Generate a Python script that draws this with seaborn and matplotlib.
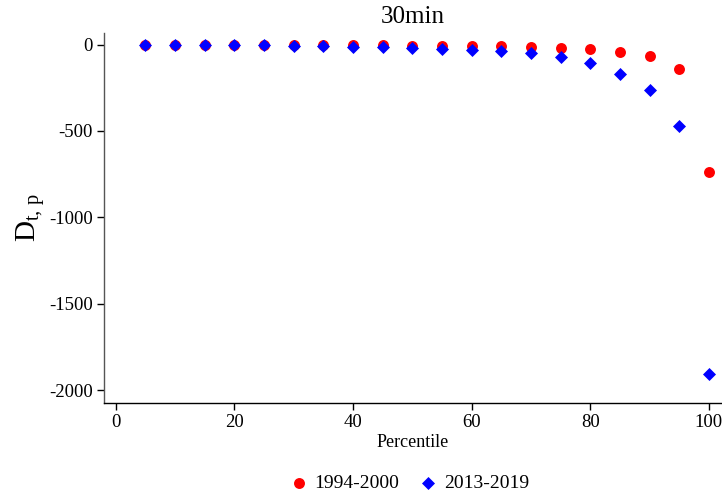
import numpy as np
import pandas as pd
import matplotlib
matplotlib.use("Agg")
import matplotlib.pyplot as plt
import seaborn as sns

percentiles = [5, 10, 15, 20, 25, 30, 35, 40, 45, 50, 55, 60, 65, 70, 75, 80, 85, 90, 95, 100]
d_1994_2000 = [-0.5, -1, -1.5, -2, -2.5, -3, -4, -4.5, -5, -6, -7, -8, -10, -13, -18, -27, -43, -68, -139, -738]
d_2013_2019 = [0, -1, -2, -3, -4, -8, -10, -13, -17, -21, -27, -31, -40, -52, -73, -108, -168, -266, -474, -1906]
series_labels = ["1994-2000", "2013-2019"]
x_ticks = [0, 20, 40, 60, 80, 100]
y_ticks = [0, -500, -1000, -1500, -2000]

sns.set_theme(style="white")
plt.rcParams["font.family"] = ["Liberation Serif", "DejaVu Serif"]
plt.rcParams["mathtext.fontset"] = "custom"
plt.rcParams["mathtext.rm"] = "Liberation Serif"
plt.rcParams["mathtext.it"] = "Liberation Serif:italic"
for k in ["text.color", "axes.labelcolor", "xtick.color", "ytick.color"]:
    plt.rcParams[k] = "black"

df1 = pd.DataFrame({"Percentile": percentiles, "D": d_1994_2000})
df2 = pd.DataFrame({"Percentile": percentiles, "D": d_2013_2019})

fig = plt.figure(figsize=(7.22, 4.97), dpi=100)
ax = fig.add_axes([103.7 / 722, 1 - 403 / 497, (722 - 103.7) / 722, (403 - 33) / 497])

sns.scatterplot(data=df1, x="Percentile", y="D", ax=ax, color="#ff0000", marker="o",
                s=62, linewidth=0, label=series_labels[0], zorder=3)
sns.scatterplot(data=df2, x="Percentile", y="D", ax=ax, color="#0000ff", marker="D",
                s=44, linewidth=0, label=series_labels[1], zorder=4)

ax.set_xlim(-2.02, 102.2)
ax.set_ylim(-2075, 66.6)
ax.set_xticks(x_ticks)
ax.set_yticks(y_ticks)
ax.set_yticklabels([str(v) for v in y_ticks])

for s in ["top", "right"]:
    ax.spines[s].set_visible(False)
ax.spines["left"].set_color("#555555")
ax.spines["bottom"].set_color("black")
ax.spines["left"].set_linewidth(1.0)
ax.spines["bottom"].set_linewidth(1.0)
ax.tick_params(axis="both", which="both", direction="out", length=5, width=1,
               colors="black", labelsize=13.5, pad=3, bottom=True, left=True)
ax.grid(False)

ax.set_xlabel("Percentile", fontsize=13, labelpad=2)
ax.set_ylabel(r"D$_{\mathrm{t,\,p}}$", fontsize=21, labelpad=1)
ax.set_title("30min", fontsize=18, pad=7)

ax.get_legend().remove()
handles, labels = ax.get_legend_handles_labels()
fig.legend(handles, labels, loc="center", bbox_to_anchor=(408 / 722, 1 - 483 / 497),
           ncol=2, frameon=False, fontsize=14, handletextpad=0.2, handlelength=1.2,
           columnspacing=0.9, markerscale=1.0)

fig.savefig("out.png", dpi=100)
